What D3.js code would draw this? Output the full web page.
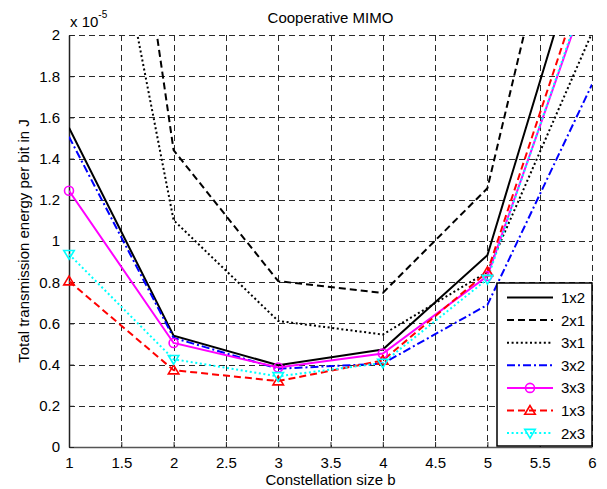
<!DOCTYPE html>
<html>
<head>
<meta charset="utf-8">
<script src="https://cdn.jsdelivr.net/npm/d3@7"></script>
<style>
  html, body { margin: 0; padding: 0; background: #fff; }
  svg { display: block; font-family: "Liberation Sans", Arial, sans-serif; }
</style>
</head>
<body>
<svg id="chart" width="607" height="489"></svg>
<script>
// Constellation sizes b (x values)
const constellation = [1, 2, 3, 4, 5, 6];

// Energy per bit, in units of 1e-5 J
const e1x2 = [1.55, 0.540, 0.397, 0.473, 0.931, 2.61];
const e2x1 = [4.94, 1.441, 0.805, 0.748, 1.256, 3.39];
const e3x1 = [3.70, 1.101, 0.612, 0.546, 0.850, 2.01];
const e3x2 = [1.506, 0.530, 0.380, 0.405, 0.690, 1.76];
const e3x3 = [1.244, 0.505, 0.386, 0.454, 0.830, 2.28];
const e1x3 = [0.805, 0.373, 0.320, 0.420, 0.850, 2.385];
const e2x3 = [0.936, 0.426, 0.343, 0.408, 0.815, 2.30];

const seriesNames = ["1x2", "2x1", "3x1", "3x2", "3x3", "1x3", "2x3"];
const seriesValues = [e1x2, e2x1, e3x1, e3x2, e3x3, e1x3, e2x3];

const xTicks = [1, 1.5, 2, 2.5, 3, 3.5, 4, 4.5, 5, 5.5, 6];
const yTicks = [0, 0.2, 0.4, 0.6, 0.8, 1, 1.2, 1.4, 1.6, 1.8, 2];

const titleText = "Cooperative MIMO";
const xLabel = "Constellation size b";
const yLabel = "Total transmission energy per bit in J";

// Line styling per series
const styles = [
  { color: "#000000", dash: null,        marker: null },
  { color: "#000000", dash: "7,4",       marker: null },
  { color: "#000000", dash: "2,2.6",     marker: null },
  { color: "#0000ff", dash: "8,3,2,3",   marker: null },
  { color: "#ff00ff", dash: null,        marker: "circle" },
  { color: "#ff0000", dash: "7,4",       marker: "up" },
  { color: "#00ffff", dash: "2,2.6",     marker: "down" }
];

const svg = d3.select("#chart");
const plot = { left: 69, right: 592, top: 35, bottom: 447 };

const x = d3.scaleLinear().domain([1, 6]).range([plot.left, plot.right]);
const y = d3.scaleLinear().domain([0, 2]).range([plot.bottom, plot.top]);

svg.append("defs").append("clipPath").attr("id", "plotClip")
  .append("rect")
  .attr("x", plot.left).attr("y", plot.top)
  .attr("width", plot.right - plot.left).attr("height", plot.bottom - plot.top);

// Grid
const grid = svg.append("g").attr("class", "grid")
  .attr("stroke", "#2a2a2a").attr("stroke-width", 1)
  .attr("stroke-dasharray", "6,4").attr("shape-rendering", "crispEdges");
grid.selectAll("line.v").data(xTicks.slice(1)).join("line")
  .attr("x1", d => Math.round(x(d)) + 0.5).attr("x2", d => Math.round(x(d)) + 0.5)
  .attr("y1", plot.top).attr("y2", plot.bottom);
grid.selectAll("line.h").data(yTicks).join("line")
  .attr("x1", plot.left).attr("x2", plot.right)
  .attr("y1", d => Math.round(y(d)) + 0.5).attr("y2", d => Math.round(y(d)) + 0.5);

// Axes
const xAxis = d3.axisBottom(x).tickValues(xTicks).tickSizeInner(-5).tickSizeOuter(0)
  .tickPadding(10).tickFormat(d3.format("~g"));
const yAxis = d3.axisLeft(y).tickValues(yTicks).tickSizeInner(-5).tickSizeOuter(0)
  .tickPadding(9).tickFormat(d3.format("~g"));

const gx = svg.append("g").attr("transform", `translate(0,${plot.bottom})`).call(xAxis);
const gy = svg.append("g").attr("transform", `translate(${plot.left},0)`).call(yAxis);
[gx, gy].forEach(g => {
  g.selectAll("text").attr("font-size", 15).attr("fill", "#000")
    .attr("font-family", "Liberation Sans, Arial, sans-serif");
  g.selectAll(".tick line").attr("stroke", "#222");
});
gx.select(".domain").attr("stroke", "#555").attr("stroke-width", 1.5);
gy.select(".domain").attr("stroke", "#222").attr("stroke-width", 1.5);

// Series lines (clipped to the axes area)
const line = d3.line().x((d, i) => x(constellation[i])).y(d => y(d));
const lines = svg.append("g").attr("clip-path", "url(#plotClip)");
// Markers are not clipped horizontally, only skipped when off the value range
const markers = svg.append("g");

function drawMarker(g, type, cx, cy, color) {
  if (type === "circle") {
    g.append("circle").attr("cx", cx).attr("cy", cy).attr("r", 4.5)
      .attr("fill", "none").attr("stroke", color).attr("stroke-width", 1.6);
  } else if (type === "up" || type === "down") {
    const s = type === "up" ? -1 : 1;
    const h = 5;
    const pts = [[cx, cy + s * h], [cx - h * 1.05, cy - s * h * 0.75], [cx + h * 1.05, cy - s * h * 0.75]];
    g.append("path").attr("d", d3.line()(pts) + "Z")
      .attr("fill", "none").attr("stroke", color).attr("stroke-width", 1.6)
      .attr("stroke-linejoin", "miter");
  }
}

seriesValues.forEach((vals, k) => {
  const st = styles[k];
  lines.append("path").datum(vals)
    .attr("d", line)
    .attr("fill", "none")
    .attr("stroke", st.color)
    .attr("stroke-width", 2)
    .attr("stroke-dasharray", st.dash)
    .attr("stroke-linejoin", "miter");
});
seriesValues.forEach((vals, k) => {
  const st = styles[k];
  if (!st.marker) return;
  vals.forEach((v, i) => {
    const cy = y(v);
    if (cy < plot.top || cy > plot.bottom) return;
    drawMarker(markers, st.marker, x(constellation[i]), cy, st.color);
  });
});

// Title and labels
svg.append("text").attr("x", (plot.left + plot.right) / 2).attr("y", 23)
  .attr("text-anchor", "middle").attr("font-size", 15).text(titleText);
svg.append("text").attr("x", (plot.left + plot.right) / 2).attr("y", 485)
  .attr("text-anchor", "middle").attr("font-size", 15).text(xLabel);
svg.append("text")
  .attr("transform", `translate(29,${(plot.top + plot.bottom) / 2}) rotate(-90)`)
  .attr("text-anchor", "middle").attr("font-size", 15).text(yLabel);

// Axis exponent
const expo = svg.append("text").attr("x", 70).attr("y", 27).attr("font-size", 15);
expo.append("tspan").text("x 10");
expo.append("tspan").attr("font-size", 10).attr("dy", -9).text("-5");

// Legend
const lg = svg.append("g");
const lgBox = { x: 497, y: 283, w: 95, h: 163 };
lg.append("rect").attr("x", lgBox.x).attr("y", lgBox.y)
  .attr("width", lgBox.w).attr("height", lgBox.h)
  .attr("fill", "#fff").attr("stroke", "#000").attr("stroke-width", 1.5);
seriesNames.forEach((name, k) => {
  const st = styles[k];
  const ry = lgBox.y + 14.5 + k * 22.6;
  lg.append("line").attr("x1", 507).attr("x2", 553).attr("y1", ry).attr("y2", ry)
    .attr("stroke", st.color).attr("stroke-width", 2).attr("stroke-dasharray", st.dash);
  if (st.marker) drawMarker(lg, st.marker, 530, ry, st.color);
  lg.append("text").attr("x", 561).attr("y", ry + 5.5).attr("font-size", 15).text(name);
});
</script>
</body>
</html>
